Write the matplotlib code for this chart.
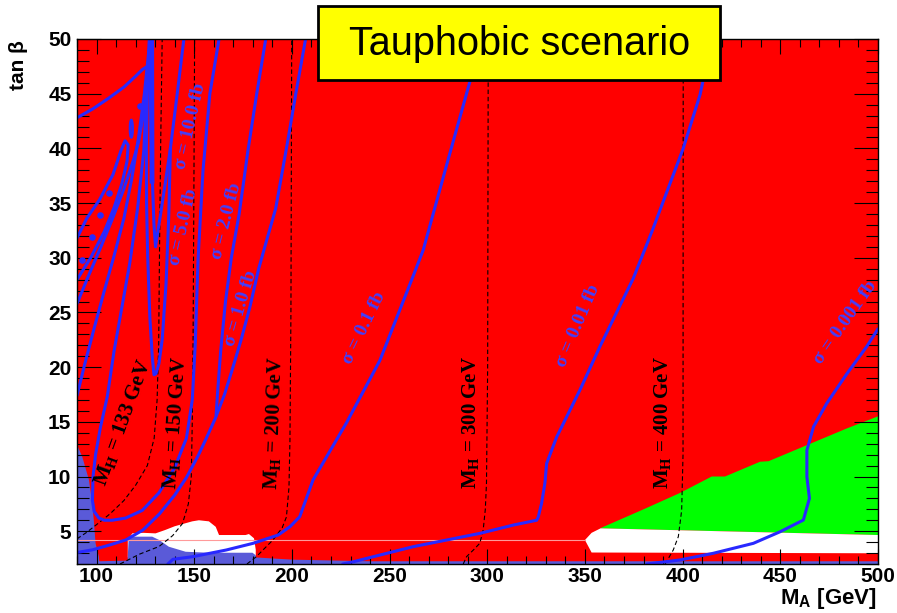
import matplotlib
matplotlib.use('Agg')
import matplotlib.pyplot as plt
from matplotlib.patches import Rectangle, Ellipse
from matplotlib.ticker import MultipleLocator

plt.rcParams['mathtext.fontset'] = 'custom'
plt.rcParams['mathtext.rm'] = 'Liberation Serif:bold'
plt.rcParams['mathtext.sf'] = 'Liberation Sans:bold'

# ---------------- data ----------------
xlim = (90, 500)
ylim = (2, 50)
xticks = [100, 150, 200, 250, 300, 350, 400, 450, 500]
yticks = [5, 10, 15, 20, 25, 30, 35, 40, 45, 50]

# excluded / allowed regions
blue1_x = [90, 90, 92.7, 96.1, 97.8, 98.6, 99.5, 101.2, 101.5]
blue1_y = [2, 12.9, 11.8, 9.7, 7.55, 6.0, 3.9, 2.67, 2.0]
white1_x = [116.0, 118.3, 124.0, 130.2, 135.0, 140.0, 146.0, 149.0, 152.4, 157.5, 161.0, 162.7, 176.3, 178.0, 180.6, 181.5, 181.5, 116.0]
white1_y = [4.2, 4.8, 4.85, 4.8, 5.1, 5.45, 5.75, 5.9, 6.0, 5.9, 5.4, 4.65, 4.65, 4.74, 4.35, 3.3, 2.6, 2.6]
blue2_x = [115.8, 116.5, 128.5, 132.0, 137.0, 145.6, 157.5, 179.8, 181.5, 181.5, 115.8]
blue2_y = [2.0, 4.5, 4.5, 4.2, 3.58, 3.12, 3.03, 3.03, 2.8, 2.0, 2.0]
strip_x = [90, 181.5, 200, 240, 500, 500, 90]
strip_y = [2.2, 2.6, 2.4, 2.25, 2.25, 2.0, 2.0]
green_x = [357.7, 380.0, 398.7, 414.9, 421.7, 439.6, 444.0, 484.1, 500, 500, 357.7]
green_y = [5.26, 7.0, 8.5, 10.0, 10.0, 11.35, 11.4, 14.4, 15.5, 4.65, 5.26]
white2_x = [350.0, 353.4, 358.0, 500, 500, 353.4]
white2_y = [4.19, 4.85, 5.26, 4.65, 2.98, 3.05]
faint_x = [90, 350]
faint_y = [4.2, 4.2]

# cross-section contours
hook_x = [90, 98, 106.3, 114, 120, 123.4, 126.0, 127.3]
hook_y = [42.8, 43.6, 44.6, 45.6, 46.6, 47.2, 47.5, 46.8]
loop_x = [90, 95, 101.5, 108.4, 112.5, 114.6, 116.2, 115.6, 113, 109, 104, 97, 90]
loop_y = [31.8, 33.6, 35.3, 37.6, 39.8, 40.7, 40.3, 38.8, 36.8, 34.6, 32.4, 30.0, 28.0]
c3_x = [90, 96, 102, 108, 114, 119, 121.5, 124.5, 126.5, 127.3]
c3_y = [25.8, 28.4, 30.9, 33.5, 36.3, 39.0, 40.6, 43.6, 46.5, 48.5]
c4_x = [90, 94, 99, 104, 109, 114, 118, 121.5, 124.5, 126.8]
c4_y = [17.4, 20.3, 23.7, 27.0, 30.2, 33.6, 37.2, 41.0, 45.0, 49.0]
spike_x = [127.4, 127.7, 128.4, 129.4, 130.2, 131.2, 132.8, 135.0, 137.8, 141.3, 144.7]
spike_y = [50, 44, 38, 33, 31, 32.2, 34.0, 36.6, 40.0, 45.0, 50]
smallu_x = [127.0, 126.0, 125.5, 125.6, 126.2, 127.3, 128.5, 129.4, 130.4, 131.9, 133.6, 135.6, 137.0, 137.8]
smallu_y = [50, 45, 40, 35, 30, 24.5, 21, 19.3, 19.4, 20.3, 22.5, 27.7, 34.0, 40.0]
bigu_x = [127.2, 125.6, 124.2, 121, 117, 113, 109, 105.5, 102, 99.5, 98.2, 97.9, 98.8, 101.2, 104, 108, 114.9, 123.4, 131.9, 140, 146, 149, 150.5, 152, 154.5, 158, 162.7]
bigu_y = [50, 45, 39.8, 34.5, 29.5, 25.5, 21.5, 17.3, 14.5, 12, 10, 7.8, 6.8, 6.2, 6.0, 6.0, 6.2, 6.9, 8.5, 10.8, 13.5, 17, 22, 30, 38, 45, 50]
c6_x = [90, 98, 106, 115, 123.7, 132.3, 140, 146, 152, 156.2, 161, 165.5, 169.5, 174, 178.5, 183, 187.4, 191.7, 197.5, 202, 207]
c6_y = [3.05, 3.3, 3.7, 4.2, 5.1, 6.6, 8.3, 9.9, 11.9, 13.5, 15.4, 17.5, 19.8, 22.5, 25.5, 29, 31.8, 34.5, 40.3, 45, 50]
c7_x = [186.6, 182, 177.5, 173, 169.0, 166.0, 163.6, 162.2, 161.2]
c7_y = [50, 45, 39.8, 34, 30, 26, 21.6, 18.3, 15.6]
sig01_x = [297.4, 291.1, 280, 267.2, 262, 245, 227.9, 210.8, 204, 199, 193, 180.1, 166.4, 149.3, 139.1, 136.5]
sig01_y = [50, 46.1, 39, 30.7, 28.3, 20.6, 14.9, 9.68, 6.32, 5.41, 4.65, 3.89, 3.28, 2.67, 2.43, 2.0]
sig001_x = [415, 408.9, 400.3, 384.5, 374.7, 357.7, 347.4, 335.5, 330.4, 329.5, 327.8, 326.1, 325.3, 313.3, 296.2, 262, 231.3, 226]
sig001_y = [50, 44.9, 40, 32.5, 28.1, 21.9, 17.9, 13.6, 11.2, 9.4, 7.55, 6.3, 6.0, 5.56, 4.8, 3.58, 2.2, 2.0]
sig0001_x = [500, 494.3, 484.1, 473.8, 467.0, 463.6, 463.6, 464.9, 461.8, 449.9, 436.2, 415.7, 398.7, 381.6]
sig0001_y = [23.5, 21.9, 19.4, 16.7, 14.55, 12.4, 9.98, 8.0, 6.02, 4.95, 3.89, 2.98, 2.37, 2.0]
dots_x = [122.0, 106.3, 102.0, 97.8, 92.7]
dots_y = [43.9, 35.9, 33.9, 31.9, 29.8]
oval_x, oval_y = 117.8, 41.8

# M_H contours (dashed)
mh133_x = [90, 95, 100, 107, 114, 120, 126, 129.5, 131, 131.8, 132.2, 132.8, 133.6]
mh133_y = [4.3, 4.9, 5.6, 6.6, 7.8, 9.2, 11.0, 13.5, 17, 22, 30, 40, 50]
mh150_x = [112, 122, 132, 139, 144, 147, 148.5, 149, 149.4, 149.8, 150.2]
mh150_y = [2.0, 2.9, 3.6, 4.6, 5.7, 7.5, 10, 15, 22, 35, 50]
mh200_x = [177, 181.8, 190.3, 195, 197.2, 198.5, 199, 199.5, 199.9]
mh200_y = [2.0, 2.67, 4.2, 5.3, 6.3, 9, 13.3, 25, 50]
mh300_x = [287.7, 289.4, 293, 296.2, 297.9, 299, 299.6, 300.2, 300.5]
mh300_y = [2.0, 2.67, 3.3, 3.9, 5.1, 7, 9.4, 20, 50]
mh400_x = [391, 393, 395.2, 397.8, 399.5, 400.2, 400.3]
mh400_y = [2.0, 2.6, 3.28, 4.5, 6.9, 12, 50]

mh_labels = ['M$_{\\mathrm{H}}$ = 133 GeV', 'M$_{\\mathrm{H}}$ = 150 GeV', 'M$_{\\mathrm{H}}$ = 200 GeV',
             'M$_{\\mathrm{H}}$ = 300 GeV', 'M$_{\\mathrm{H}}$ = 400 GeV']
mh_lab_x = [114.0, 140.4, 191.2, 291.6, 390.1]
mh_lab_y = [14.9, 14.9, 14.9, 14.9, 14.9]
mh_lab_rot = [70, 86, 88, 90, 90]

sig_labels = ['σ = 10.0 fb', 'σ = 5.0 fb', 'σ = 2.0 fb', 'σ = 1.0 fb', 'σ = 0.1 fb', 'σ = 0.01 fb', 'σ = 0.001 fb']
sig_lab_x = [148.3, 144.6, 166.3, 173.6, 236.8, 346.4, 483.2]
sig_lab_y = [42.0, 32.8, 33.4, 25.4, 23.6, 23.8, 24.1]
sig_lab_rot = [77, 77, 75.5, 73.5, 64, 67, 55]

title = 'Tauphobic scenario'

# ---------------- drawing ----------------
RED = '#ff0000'
SLATE = '#5a5ad8'
CBLUE = '#2828ff'

fig = plt.figure(figsize=(8.97, 6.13), dpi=100)
ax = fig.add_axes([77 / 897, 49 / 613, 801 / 897, 525 / 613])
ax.set_xlim(*xlim)
ax.set_ylim(*ylim)
ax.set_facecolor(RED)

ax.fill(green_x, green_y, color='#00ff00', lw=0, zorder=1)
ax.fill(white2_x, white2_y, color='white', lw=0, zorder=1)
ax.fill(white1_x, white1_y, color='white', lw=0, zorder=1)
ax.fill(blue1_x, blue1_y, color=SLATE, lw=0, zorder=1.5)
ax.fill(blue2_x, blue2_y, color=SLATE, lw=0, zorder=1.5)
ax.fill(strip_x, strip_y, color=SLATE, lw=0, zorder=1.5)
ax.plot(faint_x, faint_y, color='#ff9a9a', lw=0.8, zorder=2)

dash = (0, (4, 2.5))
for xs, ys in [(mh133_x, mh133_y), (mh150_x, mh150_y), (mh200_x, mh200_y),
               (mh300_x, mh300_y), (mh400_x, mh400_y)]:
    ax.plot(xs, ys, color='black', lw=0.8, ls=dash, zorder=3)

for xs, ys in [(hook_x, hook_y), (loop_x, loop_y), (c3_x, c3_y), (c4_x, c4_y),
               (spike_x, spike_y), (smallu_x, smallu_y), (bigu_x, bigu_y),
               (c6_x, c6_y), (c7_x, c7_y), (sig01_x, sig01_y),
               (sig001_x, sig001_y), (sig0001_x, sig0001_y)]:
    ax.plot(xs, ys, color=CBLUE, lw=2.2, solid_capstyle='round',
            solid_joinstyle='round', zorder=4)
ax.plot([128.2, 128.4], [50, 37], color=CBLUE, lw=3.5, zorder=4)
ax.scatter(dots_x, dots_y, s=14, color=CBLUE, zorder=4)
ax.add_patch(Ellipse((oval_x, oval_y), 1.4, 1.6, fill=False, ec=CBLUE, lw=1.8, zorder=4))

for s, x, y, r in zip(mh_labels, mh_lab_x, mh_lab_y, mh_lab_rot):
    ax.text(x, y, s, rotation=r, ha='center', va='center', fontsize=15,
            family='Liberation Serif', weight='bold', color='black', zorder=5,
            rotation_mode='anchor')
for s, x, y, r in zip(sig_labels, sig_lab_x, sig_lab_y, sig_lab_rot):
    ax.text(x, y, s, rotation=r, ha='center', va='center', fontsize=14,
            family='Liberation Serif', weight='bold', color='#4040ff', zorder=5,
            rotation_mode='anchor')

# axes styling
ax.set_xticks(xticks)
ax.set_yticks(yticks)
ax.xaxis.set_minor_locator(MultipleLocator(10))
ax.yaxis.set_minor_locator(MultipleLocator(1))
ax.tick_params(axis='x', which='major', direction='in', length=10.5, width=0.8,
               top=True, bottom=True, pad=2.5)
ax.tick_params(axis='x', which='minor', direction='in', length=5.5, width=0.8,
               top=True, bottom=True)
ax.tick_params(axis='y', which='major', direction='in', length=17, width=0.8,
               left=True, right=True, pad=4)
ax.tick_params(axis='y', which='minor', direction='in', length=8.5, width=0.8,
               left=True, right=True)
for lab in ax.get_xticklabels() + ax.get_yticklabels():
    lab.set_family('Liberation Sans')
    lab.set_weight('bold')
    lab.set_fontsize(15)
for sp in ax.spines.values():
    sp.set_linewidth(1.0)
    sp.set_zorder(6)

fig.text(877 / 897, 1 - 611 / 613, 'M$_{\\mathsf{A}}$ [GeV]', ha='right', va='bottom',
         fontsize=16, family='Liberation Sans', weight='bold')
fig.text(19 / 897, 1 - 40 / 613, 'tan β', rotation=90, ha='center', va='top',
         fontsize=15, family='Liberation Sans', weight='bold')

box = Rectangle((318 / 897, 1 - 80 / 613), 402 / 897, 74 / 613, transform=fig.transFigure,
                facecolor='#ffff00', edgecolor='black', lw=2, zorder=10)
fig.add_artist(box)
fig.text(520 / 897, 1 - 44 / 613, title, ha='center', va='center', fontsize=28.5,
         family='Liberation Sans', zorder=11)

fig.savefig('out.png', dpi=100)
